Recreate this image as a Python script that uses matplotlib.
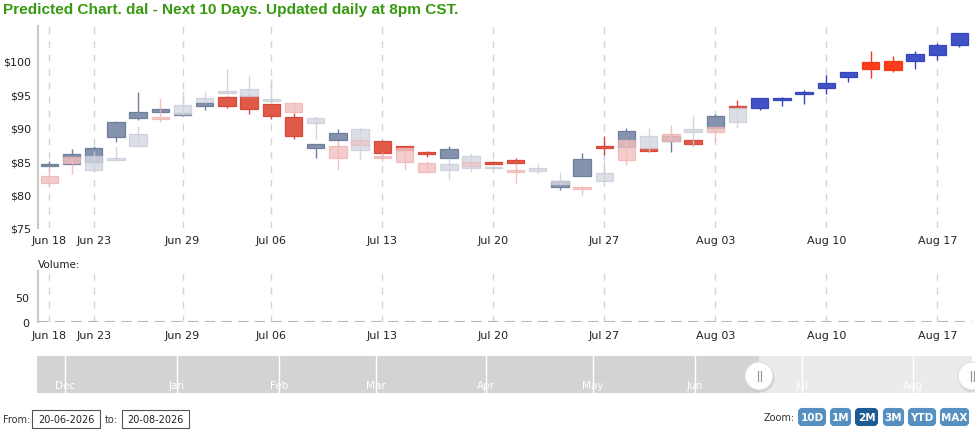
import numpy as np
import matplotlib
matplotlib.use("Agg")
import matplotlib.pyplot as plt
from matplotlib.patches import Rectangle, Circle, FancyBboxPatch

nan = np.nan

# tick labels on the ordinal (trading-day) axis
tick_idx = [0, 2, 6, 10, 15, 20, 25, 30, 35, 40]
tick_lbl = ["Jun 18", "Jun 23", "Jun 29", "Jul 06", "Jul 13",
            "Jul 20", "Jul 27", "Aug 03", "Aug 10", "Aug 17"]

# actual prices (index 0..31)
act_open = [84.25, 84.5, 84.8, 88.55, 91.5, 92.4, 91.9, 93.2, 94.6, 94.8, 93.5, 91.6,
            86.9, 88.15, nan, 88.05, 87.25, 86.3, 85.4, nan, 84.9, 85.2, nan, 81.2,
            82.8, 87.1, 87.05, 87.0, 88.0, 88.2, 90.0, 93.3]
act_high = [85.0, 86.8, 87.2, 91.0, 95.3, 92.9, 92.3, 93.9, 94.7, 95.0, 93.6, 92.2,
            87.6, 89.8, nan, 88.1, 87.3, 86.55, 87.3, nan, 84.95, 85.4, nan, 82.1,
            86.2, 88.7, 89.9, 87.05, 89.0, 88.3, 92.1, 94.2]
act_low = [84.2, 84.4, 84.6, 87.8, 91.2, 92.3, 91.8, 92.7, 93.0, 92.1, 91.3, 88.3,
           85.4, 88.0, nan, 86.0, 86.5, 85.55, 85.4, nan, 84.5, 84.6, nan, 80.7,
           82.8, 85.9, 87.0, 86.3, 86.4, 87.2, 89.5, 92.9]
act_close = [84.4, 86.05, 87.0, 90.8, 92.3, 92.8, 92.2, 93.7, 93.2, 92.8, 91.8, 88.7,
             87.55, 89.2, nan, 86.2, 86.65, 86.1, 86.8, nan, 84.55, 84.7, nan, 82.1,
             85.3, 87.0, 89.55, 86.45, 88.8, 87.55, 91.8, 92.95]

# earlier predictions for the same days (index 0..31)
pre_open = [82.7, 85.55, 83.6, 85.2, 87.2, 91.6, 92.1, 93.8, 95.2, 94.8, 94.0, 93.7,
            90.7, 87.25, 86.65, 85.8, 86.9, 84.7, 83.7, 83.9, 83.9, 83.5, 83.5, 81.6,
            81.2, 82.1, 88.2, 86.9, 89.05, 89.4, 90.05, 90.8]
pre_high = [84.3, 85.6, 86.5, 87.3, 90.3, 94.4, 95.5, 95.4, 98.7, 97.9, 97.3, 93.9,
            91.7, 88.0, 90.05, 86.3, 87.0, 85.0, 85.4, 86.2, 84.1, 84.7, 84.7, 83.3,
            81.3, 85.8, 88.3, 90.0, 90.4, 91.8, 90.1, 93.0]
pre_low = [81.1, 83.1, 83.5, 85.05, 87.1, 90.9, 91.9, 93.7, 95.1, 94.7, 93.9, 92.3,
           88.3, 83.6, 85.2, 84.8, 83.6, 83.3, 82.2, 83.3, 83.85, 81.8, 83.1, 81.5,
           80.0, 82.0, 84.4, 86.2, 88.0, 87.3, 87.9, 90.0]
pre_close = [81.8, 84.65, 85.7, 85.45, 89.1, 91.3, 93.4, 94.4, 95.5, 95.8, 94.15, 92.4,
             91.4, 85.4, 89.8, 85.4, 84.8, 83.3, 84.5, 85.8, 84.0, 83.4, 84.0, 82.0,
             80.85, 83.2, 85.2, 88.8, 88.05, 89.8, 89.4, 92.9]

# second overlapping prediction on two days
ext_idx = [14, 19]
ext_open = [88.15, 84.9]
ext_close = [87.4, 84.3]

# next 10 days forecast (index 32..41)
fut_idx = list(range(32, 42))
fut_open = [92.9, 94.2, 95.05, 95.9, 97.65, 99.75, 100.0, 100.0, 100.85, 102.35]
fut_high = [94.45, 94.6, 95.6, 97.8, 98.3, 101.5, 100.65, 101.5, 102.6, 104.2]
fut_low = [92.7, 93.2, 93.6, 95.0, 96.8, 97.5, 98.35, 98.75, 100.15, 102.1]
fut_close = [94.4, 94.5, 95.25, 96.75, 98.25, 98.75, 98.65, 101.0, 102.35, 104.1]

nav_months = ["Dec", "Jan", "Feb", "Mar", "Apr", "May", "Jun", "Jul", "Aug"]
zoom_btns = ["10D", "1M", "2M", "3M", "YTD", "MAX"]

W, H = 975, 431
plt.rcParams['font.family'] = ['DejaVu Sans']


def candles(ax, x, o, h, l, c, up, down, up_edge, down_edge, alpha=1.0, z=2):
    x = np.asarray(x, float)
    o, h, l, c = [np.asarray(v, float) for v in (o, h, l, c)]
    ok = ~np.isnan(o)
    x, o, h, l, c = x[ok], o[ok], h[ok], l[ok], c[ok]
    isup = c >= o
    fc = [up if u else down for u in isup]
    ec = [up_edge if u else down_edge for u in isup]
    ax.vlines(x, l, h, colors=ec, lw=1.0, alpha=alpha, zorder=z)
    bot = np.minimum(o, c)
    hgt = np.maximum(np.abs(c - o), 0.28)
    ax.bar(x, hgt, bottom=bot, width=0.78, color=fc, edgecolor=ec,
           linewidth=0.9, alpha=alpha, zorder=z + 0.1)


fig = plt.figure(figsize=(W / 100, H / 100), dpi=100)

def rect(l, t, r, b):
    return [l / W, 1 - b / H, (r - l) / W, (b - t) / H]

x0, step = 49.3, 22.2
xlim = ((38 - x0) / step, (972 - x0) / step)

# ---- price pane ----
ax = fig.add_axes(rect(38, 27, 972, 229))
ax.set_xlim(*xlim)
ax.set_ylim(75, 105.2)
for t in tick_idx:
    ax.axvline(t, color="#d4d4d4", lw=1, ls=(0, (5, 5)), zorder=0)
n_act = len(act_open)
candles(ax, range(n_act), act_open, act_high, act_low, act_close,
        "#8592ad", "#e05a48", "#6f7e9c", "#d9483a", z=2)
candles(ax, range(n_act), pre_open, pre_high, pre_low, pre_close,
        "#d4d7e0", "#f1c0bf", "#c9cdd8", "#eeb3b2", alpha=0.8, z=3)
candles(ax, ext_idx, ext_open, ext_close, ext_close, ext_close,
        "#d4d7e0", "#e9c6c8", "#d4d7e0", "#e6bfc1", alpha=0.8, z=4)
candles(ax, fut_idx, fut_open, fut_high, fut_low, fut_close,
        "#4052c6", "#fc3d1d", "#3646bb", "#f2391a", z=2)
ax.set_yticks([75, 80, 85, 90, 95, 100])
ax.set_yticklabels(["$%d" % v for v in [75, 80, 85, 90, 95, 100]])
ax.set_xticks(tick_idx)
ax.set_xticklabels(tick_lbl)
ax.tick_params(length=0, labelsize=8, colors="#222222", pad=5)
for s in ["top", "right", "bottom"]:
    ax.spines[s].set_visible(False)
ax.spines["left"].set_color("#c8c8c8")
ax.spines["left"].set_linewidth(1.5)

# ---- volume pane ----
av = fig.add_axes(rect(38, 272, 972, 323))
av.set_xlim(*xlim)
av.set_ylim(0, 104)
for t in tick_idx:
    av.axvline(t, color="#d4d4d4", lw=1, ls=(0, (5, 5)), zorder=0)
av.axhline(0, color="#b8b8b8", lw=1.5, ls=(0, (5, 3)))
av.set_yticks([0, 50])
av.set_xticks(tick_idx)
av.set_xticklabels(tick_lbl)
av.tick_params(length=0, labelsize=8, colors="#222222", pad=6)
for s in ["top", "right", "bottom"]:
    av.spines[s].set_visible(False)
av.spines["left"].set_color("#c8c8c8")
av.spines["left"].set_linewidth(1.5)

# ---- page furniture (pixel coordinates) ----
ov = fig.add_axes([0, 0, 1, 1], zorder=-1)
ov.set_xlim(0, W)
ov.set_ylim(H, 0)
ov.axis("off")

fig.text(3 / W, 1 - 10 / H, "Predicted Chart. dal - Next 10 Days. Updated daily at 8pm CST.",
         color="#36990f", fontsize=11.1, fontweight="bold", family="Liberation Sans",
         va="center", ha="left")
fig.text(38 / W, 1 - 265 / H, "Volume:", fontsize=7.5, color="#222222", va="center")

# navigator
ov.add_patch(Rectangle((37, 357), 759 - 37, 37, color="#d3d3d3", lw=0))
ov.add_patch(Rectangle((759, 357), 972 - 759, 37, color="#ebebeb", lw=0))
nav_x = [65, 177, 279, 376, 486, 593, 695, 802, 913]
for m, xm in zip(nav_months, nav_x):
    ov.plot([xm, xm], [357, 394], color="white", lw=1)
    ov.text(xm, 386, m, color="white", fontsize=7.5, ha="center", va="center")
for hx in (759, 972):
    ov.add_patch(Circle((hx + 1, 379), 14.5, color="#bbbbbb", alpha=0.5, lw=0))
    ov.add_patch(Circle((hx, 377), 14, facecolor="white", edgecolor="#dddddd", lw=0.8))
    ov.plot([hx - 1.5, hx - 1.5], [372, 382], color="#999999", lw=0.9)
    ov.plot([hx + 1.5, hx + 1.5], [372, 382], color="#999999", lw=0.9)

# date inputs
ov.text(3, 420, "From:", fontsize=7, color="#333333", va="center")
ov.add_patch(Rectangle((32, 411), 68, 18, facecolor="white", edgecolor="#555555", lw=0.8))
ov.text(66, 420, "20-06-2026", fontsize=7, color="#222222", ha="center", va="center")
ov.text(105, 420, "to:", fontsize=7, color="#333333", va="center")
ov.add_patch(Rectangle((122, 411), 67, 18, facecolor="white", edgecolor="#555555", lw=0.8))
ov.text(155, 420, "20-08-2026", fontsize=7, color="#222222", ha="center", va="center")

# range selector buttons
ov.text(764, 418, "Zoom:", fontsize=7, color="#333333", va="center")
btn_x = [(797, 827), (829, 852), (854, 879), (882, 905), (907, 937), (939, 970)]
for lbl, (bl, br) in zip(zoom_btns, btn_x):
    col = "#1c5c92" if lbl == "2M" else "#5590c0"
    ov.add_patch(FancyBboxPatch((bl + 2, 410), br - bl - 4, 16,
                                boxstyle="round,pad=0,rounding_size=3",
                                facecolor=col, edgecolor=col, lw=1.5))
    ov.text((bl + br) / 2, 418.5, lbl, fontsize=7.5, fontweight="bold", color="white",
            ha="center", va="center")

fig.savefig("out.png", dpi=100)
